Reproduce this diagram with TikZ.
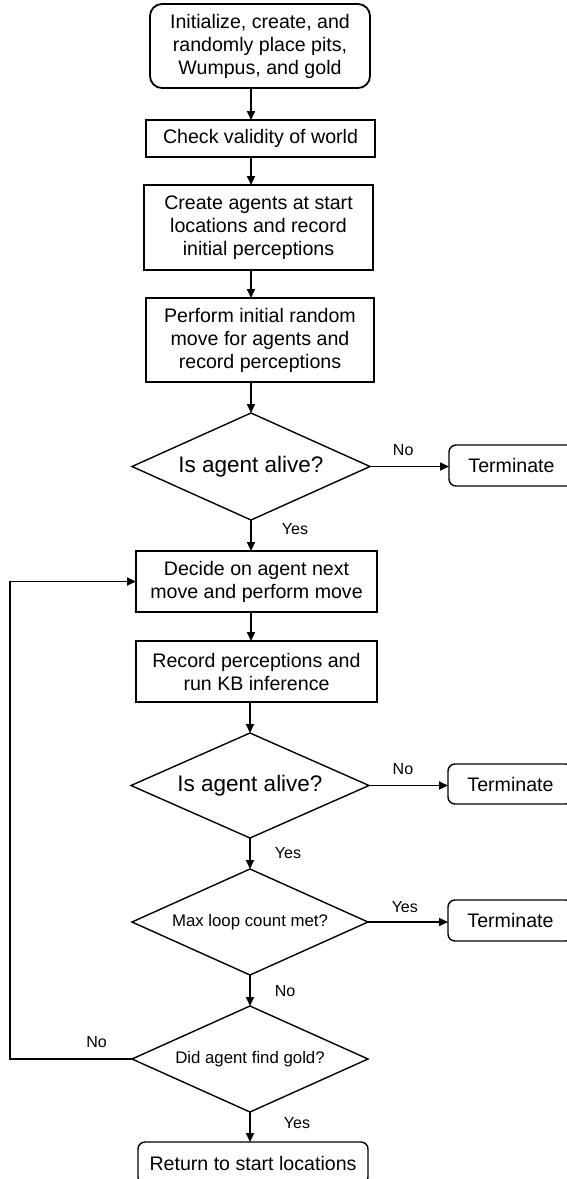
\documentclass[tikz,border=0pt]{standalone}
\usepackage{fontspec}
\setmainfont{Liberation Sans}
\usetikzlibrary{shapes.geometric,arrows.meta}
\begin{document}
\begin{tikzpicture}[x=1pt,y=-1pt,
  every node/.style={inner sep=0pt,outer sep=0pt,align=center},
  bigtxt/.style={font=\fontsize{19.6}{23}\selectfont},
  procbox/.style={draw,line width=2.2pt,bigtxt,rectangle},
  startbox/.style={draw,line width=1.8pt,bigtxt,rectangle,rounded corners=12pt},
  termbox/.style={draw,line width=1.4pt,bigtxt,rectangle,rounded corners=7pt},
  decbig/.style={draw,line width=1.4pt,diamond,aspect=2.22,font=\fontsize{22.5}{26}\selectfont},
  decsmall/.style={draw,line width=1.4pt,diamond,aspect=2.22,font=\fontsize{16.8}{20}\selectfont},
  lbl/.style={font=\fontsize{16}{19}\selectfont},
  arr/.style={line width=1.8pt,-{Triangle[length=9pt,width=8pt]}},
  plainline/.style={line width=1.8pt}]
\useasboundingbox (0,0) rectangle (567,1179);
\clip (0,0) rectangle (567,1179);
\coordinate (ax) at (251,0);
% process nodes
\node[startbox,minimum width=220pt,minimum height=84pt] (b1) at (260,46)
  {Initialize, create, and\\randomly place pits,\\Wumpus, and gold};
\node[procbox,line width=2.5pt,minimum width=229pt,minimum height=37pt] (b2) at (260.5,138.5)
  {Check validity of world};
\node[procbox,minimum width=229pt,minimum height=85pt] (b3) at (258.5,227.5)
  {Create agents at start\\locations and record\\initial perceptions};
\node[procbox,minimum width=228pt,minimum height=84pt] (b4) at (260,340)
  {Perform initial random\\move for agents and\\record perceptions};
\node[decbig,minimum width=238pt,minimum height=107pt] (d1) at (251,466.5)
  {Is agent alive?};
\node[termbox,minimum width=125pt,minimum height=41pt] (t1) at (511.5,465.5)
  {Terminate};
\node[procbox,minimum width=241pt,minimum height=61pt] (b5) at (256.5,581.5)
  {Decide on agent next\\move and perform move};
\node[procbox,minimum width=241pt,minimum height=61pt] (b6) at (256.5,671.5)
  {Record perceptions and\\run KB inference};
\node[decbig,minimum width=238pt,minimum height=105pt] (d2) at (250,785.5)
  {Is agent alive?};
\node[termbox,minimum width=125pt,minimum height=40pt] (t2) at (510.5,784)
  {Terminate};
\node[decsmall,minimum width=236pt,minimum height=106pt] (d3) at (250,922)
  {Max loop count met?};
\node[termbox,minimum width=125pt,minimum height=41pt] (t3) at (510.5,920.5)
  {Terminate};
\node[decsmall,minimum width=236pt,minimum height=106pt] (d4) at (250,1059)
  {Did agent find gold?};
\node[termbox,minimum width=230pt,minimum height=42pt] (ret) at (253,1163)
  {Return to start locations};
\coordinate (lp) at (10,0);
% connectors
\draw[arr] (b1.south -| ax) -- (b2.north -| ax);
\draw[arr] (b2.south -| ax) -- (b3.north -| ax);
\draw[arr] (b3.south -| ax) -- (b4.north -| ax);
\draw[arr] (b4.south -| ax) -- (d1.north);
\draw[arr] (d1.east) -- node[lbl,pos=0.42,yshift=16pt]{No} (t1.west |- d1.east);
\draw[arr] (d1.south) -- node[lbl,pos=0.3,xshift=44pt]{Yes} (b5.north -| d1.south);
\draw[arr] (b5.south -| d1.south) -- (b6.north -| d1.south);
\draw[arr] (b6.south -| d2.north) -- (d2.north);
\draw[arr] (d2.east) -- node[lbl,pos=0.43,yshift=16pt]{No} (t2.west |- d2.east);
\draw[arr] (d2.south) -- node[lbl,pos=0.48,xshift=38pt]{Yes} (d3.north);
\draw[arr] (d3.east) -- node[lbl,pos=0.46,yshift=15pt]{Yes} (t3.west |- d3.east);
\draw[arr] (d3.south) -- node[lbl,pos=0.52,xshift=35pt]{No} (d4.north);
\draw[arr] (d4.south) -- node[lbl,pos=0.37,xshift=47pt]{Yes} (ret.north -| d4.south);
\draw[arr] (d4.west) -- node[lbl,pos=0.29,yshift=17pt]{No} (d4.west -| lp) |- (b5.west);
\end{tikzpicture}
\end{document}
